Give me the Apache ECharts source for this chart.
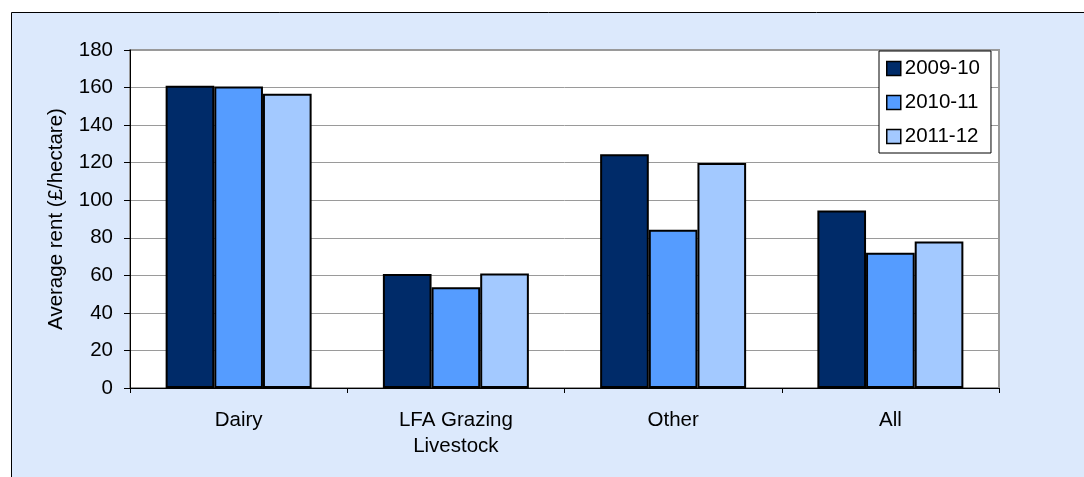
<!DOCTYPE html>
<html>
<head>
<meta charset="utf-8">
<script src="https://cdn.jsdelivr.net/npm/echarts@6/dist/echarts.min.js"></script>
<style>
html,body{margin:0;padding:0;background:#fff;}
#c{width:1084px;height:477px;}
</style>
</head>
<body>
<div id="c"></div>
<script>
var categories = ['Dairy', 'LFA Grazing\nLivestock', 'Other', 'All'];
var seriesNames = ['2009-10', '2010-11', '2011-12'];
var values0910 = [161, 60.7, 124.5, 94.5];
var values1011 = [160.5, 53.6, 84.3, 72];
var values1112 = [156.7, 61, 119.8, 78];
var yTicks = [0, 20, 40, 60, 80, 100, 120, 140, 160, 180];
var colors = ['#002b69', '#559cff', '#a3c9ff'];

var allValues = [values0910, values1011, values1112];
var font = 'Liberation Sans, Arial, sans-serif';
var fs = 20.5;

var chart = echarts.init(document.getElementById('c'), null, {renderer: 'canvas'});
var series = seriesNames.map(function (name, i) {
  return {
    name: name,
    type: 'bar',
    data: allValues[i],
    barWidth: '22.4%',
    barGap: '0%',
    itemStyle: {color: colors[i], borderColor: '#000', borderWidth: 2},
    emphasis: {disabled: true}
  };
});

chart.setOption({
  animation: false,
  backgroundColor: '#fff',
  graphic: [{
    type: 'rect',
    z: -10,
    silent: true,
    shape: {x: 11.5, y: 12.5, width: 1200, height: 600},
    style: {fill: '#dce9fc', stroke: '#000', lineWidth: 1}
  }],
  grid: {
    left: 130, top: 50, width: 869, height: 338,
    show: true, backgroundColor: '#fff', borderColor: '#999', borderWidth: 2
  },
  legend: {
    orient: 'vertical',
    left: 879, top: 51,
    padding: [7, 11, 6, 7],
    itemGap: 13,
    itemWidth: 14, itemHeight: 14,
    icon: 'rect',
    backgroundColor: '#fff',
    borderColor: '#000', borderWidth: 1,
    borderRadius: 0,
    itemStyle: {borderColor: '#000', borderWidth: 1.5},
    textStyle: {fontFamily: font, fontSize: fs, color: '#000', padding: [0, 0, 0, -1], lineHeight: 20},
    data: seriesNames
  },
  xAxis: {
    type: 'category',
    data: categories,
    axisLine: {lineStyle: {color: '#000', width: 1}},
    axisTick: {show: true, length: 5, lineStyle: {color: '#000'}},
    axisLabel: {fontFamily: font, fontSize: fs, color: '#000', margin: 19, lineHeight: 26},
    splitLine: {show: false}
  },
  yAxis: {
    type: 'value',
    min: 0, max: 180, interval: 20,
    name: 'Average rent (£/hectare)',
    nameLocation: 'middle',
    nameGap: 63,
    nameTextStyle: {fontFamily: font, fontSize: fs, color: '#000'},
    axisLine: {show: true, lineStyle: {color: '#000', width: 1}},
    axisTick: {show: true, length: 6, lineStyle: {color: '#000'}},
    axisLabel: {fontFamily: font, fontSize: fs, color: '#000', margin: 17,
      formatter: function (v) { return yTicks.indexOf(v) >= 0 ? String(v) : ''; }},
    splitLine: {show: true, lineStyle: {color: '#9a9a9a', width: 1}}
  },
  series: series
});
</script>
</body>
</html>
